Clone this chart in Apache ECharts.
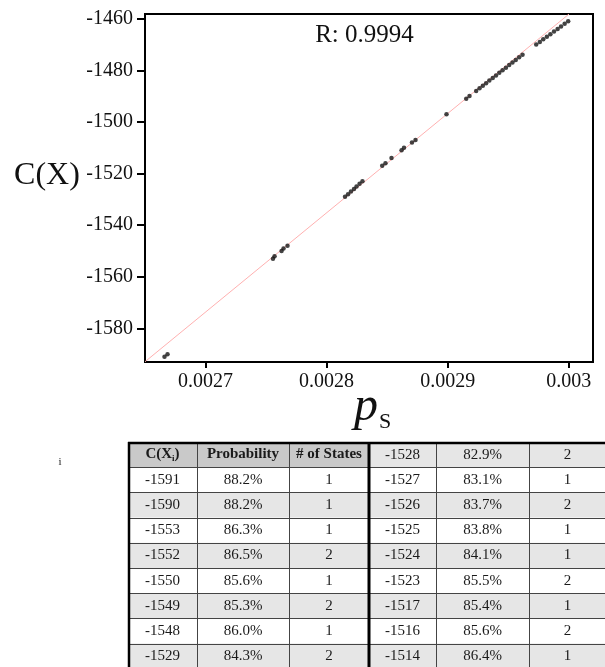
<!DOCTYPE html>
<html>
<head>
<meta charset="utf-8">
<script src="https://cdn.jsdelivr.net/npm/echarts@6/dist/echarts.min.js"></script>
<style>
  html, body { margin: 0; padding: 0; background: #fff; }
  #chart { width: 605px; height: 667px; }
</style>
</head>
<body>
<div id="chart"></div>
<script>
// Cost C(X) of each state against its success probability p_s
const cValues = [
  -1591, -1590, -1553, -1552, -1550, -1549, -1548,
  -1529, -1528, -1527, -1526, -1525, -1524, -1523,
  -1517, -1516, -1514, -1511, -1510, -1508, -1507,
  -1497, -1491, -1490,
  -1488, -1487, -1486, -1485, -1484, -1483, -1482, -1481,
  -1480, -1479, -1478, -1477, -1476, -1475, -1474,
  -1470, -1469, -1468, -1467, -1466, -1465, -1464, -1463, -1462, -1461
];
const psValues = [
  0.0026661, 0.0026686, 0.0027557, 0.0027570, 0.0027628, 0.0027644, 0.0027677,
  0.0028152, 0.0028177, 0.0028201, 0.0028226, 0.0028247, 0.0028272, 0.0028296,
  0.0028459, 0.0028486, 0.0028536, 0.0028619, 0.0028639, 0.0028705, 0.0028734,
  0.0028990, 0.0029153, 0.0029180,
  0.0029235, 0.0029263, 0.0029290, 0.0029317, 0.0029344, 0.0029372, 0.0029399, 0.0029426,
  0.0029453, 0.0029481, 0.0029508, 0.0029535, 0.0029562, 0.0029590, 0.0029618,
  0.0029731, 0.0029761, 0.0029789, 0.0029819, 0.0029848, 0.0029878, 0.0029908, 0.0029936, 0.0029966, 0.0029995
];
// Linear fit endpoints (p_s, C)
const fitLine = [[0.00265, -1592.9], [0.0030002, -1458.2]];
const rLabel = 'R: 0.9994';

const xTicks = [0.0027, 0.0028, 0.0029, 0.003];
const yTicks = [-1580, -1560, -1540, -1520, -1500, -1480, -1460];

// Table: left half (with header) and right half
const headers = ['C(X)', 'Probability', '# of States'];
const leftC = [-1591, -1590, -1553, -1552, -1550, -1549, -1548, -1529];
const leftProb = ['88.2%', '88.2%', '86.3%', '86.5%', '85.6%', '85.3%', '86.0%', '84.3%'];
const leftStates = [1, 1, 1, 2, 1, 2, 1, 2];
const rightC = [-1528, -1527, -1526, -1525, -1524, -1523, -1517, -1516, -1514];
const rightProb = ['82.9%', '83.1%', '83.7%', '83.8%', '84.1%', '85.5%', '85.4%', '85.6%', '86.4%'];
const rightStates = [2, 1, 2, 1, 1, 2, 1, 2, 1];

const SERIF = '"Liberation Serif", "Times New Roman", serif';
const chart = echarts.init(document.getElementById('chart'), null, { renderer: 'canvas' });

// ---- table drawn as graphic elements ----
function buildTable() {
  const colX = [128, 197, 289, 369, 436, 529, 606];
  const top = 442, rowH = 25.2, nRows = 9;
  const els = [];
  const txt = (x, y, text, extra) => Object.assign({
    type: 'text', x: x, y: y, z: 10,
    style: Object.assign({
      text: String(text), font: '15px ' + SERIF, fill: '#1a1a1a',
      align: 'center', verticalAlign: 'middle', textAlign: 'center', textVerticalAlign: 'middle'
    }, extra || {})
  });
  const cellBg = (c0, c1, r, fill) => ({
    type: 'rect', z: 1,
    shape: { x: colX[c0], y: top + r * rowH, width: colX[c1] - colX[c0], height: rowH },
    style: { fill: fill }
  });
  for (let r = 0; r < nRows; r++) {
    // left half
    if (r === 0) {
      els.push(cellBg(0, 3, r, '#c9c9c9'));
    } else if (r % 2 === 0) {
      els.push(cellBg(0, 3, r, '#e6e6e6'));
    }
    // right half
    if (r % 2 === 0) els.push(cellBg(3, 6, r, '#e6e6e6'));
  }
  // grid lines
  for (let r = 1; r < nRows; r++) {
    const y = Math.round(top + r * rowH) + 0.5;
    els.push({ type: 'line', z: 5, shape: { x1: colX[0], y1: y, x2: colX[6], y2: y }, style: { stroke: '#444', lineWidth: 1 } });
  }
  [1, 2, 4, 5, 6].forEach(c => {
    els.push({ type: 'line', z: 5, shape: { x1: colX[c] + 0.5, y1: top, x2: colX[c] + 0.5, y2: top + nRows * rowH }, style: { stroke: '#444', lineWidth: 1 } });
  });
  els.push({ type: 'line', z: 6, shape: { x1: colX[0], y1: top + 1, x2: colX[6], y2: top + 1 }, style: { stroke: '#000', lineWidth: 2.5 } });
  els.push({ type: 'line', z: 6, shape: { x1: colX[0] + 1, y1: top, x2: colX[0] + 1, y2: top + nRows * rowH }, style: { stroke: '#000', lineWidth: 2.5 } });
  els.push({ type: 'line', z: 6, shape: { x1: colX[3], y1: top, x2: colX[3], y2: top + nRows * rowH }, style: { stroke: '#000', lineWidth: 3 } });

  const cx = c => (colX[c] + colX[c + 1]) / 2;
  const cy = r => top + r * rowH + rowH / 2;
  // header cells
  els.push({
    type: 'text', x: cx(0), y: cy(0), z: 10,
    style: {
      text: '{b|C(X}{s|i}{b|)}', align: 'center', verticalAlign: 'middle',
      textAlign: 'center', textVerticalAlign: 'middle',
      rich: {
        b: { font: 'bold 15px ' + SERIF, fill: '#1a1a1a', color: '#1a1a1a' },
        s: { font: 'bold 9px ' + SERIF, fill: '#1a1a1a', color: '#1a1a1a', padding: [8, 0, 0, 0] }
      }
    }
  });
  els.push(txt(cx(1), cy(0), headers[1], { font: 'bold 15px ' + SERIF }));
  els.push(txt(cx(2), cy(0), headers[2], { font: 'bold 15px ' + SERIF }));
  for (let i = 0; i < leftC.length; i++) {
    els.push(txt(cx(0), cy(i + 1), leftC[i]));
    els.push(txt(cx(1), cy(i + 1), leftProb[i]));
    els.push(txt(cx(2), cy(i + 1), leftStates[i]));
  }
  for (let i = 0; i < rightC.length; i++) {
    els.push(txt(cx(3), cy(i), rightC[i]));
    els.push(txt(cx(4), cy(i), rightProb[i]));
    els.push(txt(cx(5), cy(i), rightStates[i]));
  }
  // stray subscript mark left of the table
  els.push(txt(60, 462, 'i', { font: '11px ' + SERIF }));
  return els;
}

const graphics = [
  {
    type: 'text', x: 364.5, y: 35, z: 20,
    style: { text: rLabel, font: '25px ' + SERIF, fill: '#111', align: 'center', verticalAlign: 'middle', textAlign: 'center', textVerticalAlign: 'middle' }
  },
  {
    type: 'text', x: 47, y: 176, z: 20,
    style: { text: 'C(X)', font: '32px ' + SERIF, fill: '#111', align: 'center', verticalAlign: 'middle', textAlign: 'center', textVerticalAlign: 'middle' }
  },
  {
    type: 'text', x: 354, y: 431, z: 20,
    style: { text: 'p', font: 'italic 48px ' + SERIF, fill: '#111', align: 'left', verticalAlign: 'alphabetic', textAlign: 'left', textVerticalAlign: 'bottom' }
  },
  {
    type: 'text', x: 379, y: 433, z: 20,
    style: { text: 'S', font: '22px ' + SERIF, fill: '#111', align: 'left', verticalAlign: 'bottom', textAlign: 'left', textVerticalAlign: 'bottom' }
  }
].concat(buildTable());

const option = {
  animation: false,
  backgroundColor: '#fff',
  grid: {
    left: 145, top: 14, width: 448, height: 348,
    show: true, borderColor: '#000', borderWidth: 2, backgroundColor: 'transparent'
  },
  xAxis: {
    type: 'value', min: 0.00265, max: 0.00302,
    splitLine: { show: false },
    axisLine: { show: true, onZero: false, lineStyle: { color: '#000', width: 2 } },
    axisTick: { show: true, customValues: xTicks, length: 6, lineStyle: { color: '#000', width: 2 } },
    axisLabel: {
      customValues: xTicks, margin: 10, color: '#111', fontSize: 20, fontFamily: SERIF,
      formatter: v => String(parseFloat(Number(v).toFixed(4)))
    }
  },
  yAxis: {
    type: 'value', min: -1593, max: -1458.2,
    splitLine: { show: false },
    axisLine: { show: true, onZero: false, lineStyle: { color: '#000', width: 2 } },
    axisTick: { show: true, customValues: yTicks, length: 8, lineStyle: { color: '#000', width: 2 } },
    axisLabel: {
      customValues: yTicks, margin: 12, color: '#111', fontSize: 20, fontFamily: SERIF,
      formatter: v => String(Math.round(Number(v)))
    }
  },
  series: [
    {
      type: 'line', data: fitLine, symbol: 'none', z: 1, silent: true,
      lineStyle: { color: '#ffb0b0', width: 1 }
    },
    {
      type: 'scatter', data: cValues.map((c, i) => [psValues[i], c]), z: 3,
      symbol: 'circle', symbolSize: 4.5,
      itemStyle: { color: '#141414' }
    }
  ],
  graphic: graphics
};
chart.setOption(option);
</script>
</body>
</html>
